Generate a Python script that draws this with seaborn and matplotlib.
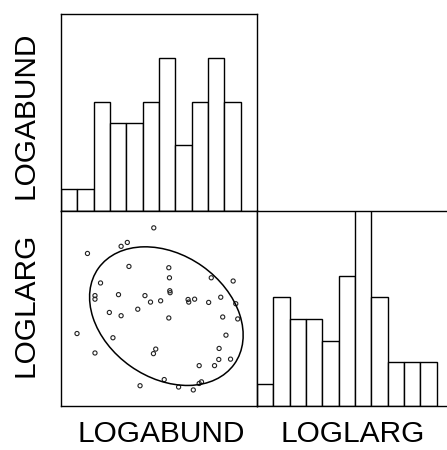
import numpy as np
import pandas as pd
import matplotlib
matplotlib.use("Agg")
import matplotlib.pyplot as plt
from matplotlib.patches import Ellipse
import seaborn as sns

# Variables of the scatterplot matrix
variables = ["LOGABUND", "LOGLARG"]

logabund = [2.84, 2.03, 1.84, 0.81, 2.08, 3.30, 3.32, 4.60, 5.27, 1.21,
            1.04, 1.04, 1.76, 2.57, 3.33, 3.34, 2.74, 3.05, 3.89, 3.91,
            4.09, 4.52, 4.89, 5.35, 1.48, 2.35, 1.84, 3.30, 4.95, 5.41,
            0.49, 1.59, 5.05, 1.04, 2.90, 2.83, 4.84, 4.83, 5.19, 4.70,
            4.23, 3.16, 2.42, 3.60, 4.05, 4.23, 4.30]
loglarg = [5.48, 5.03, 4.91, 4.69, 4.29, 4.25, 3.94, 3.94, 3.84, 3.78,
           3.39, 3.28, 3.42, 3.39, 3.54, 3.48, 3.19, 3.23, 3.27, 3.19,
           3.28, 3.18, 3.34, 3.14, 2.87, 2.97, 2.77, 2.70, 2.73, 2.67,
           2.22, 2.09, 2.17, 1.62, 1.74, 1.60, 1.76, 1.42, 1.43, 1.23,
           1.23, 0.80, 0.61, 0.57, 0.48, 0.68, 0.73]

bin_edges = [0.0, 0.5, 1.0, 1.5, 2.0, 2.5, 3.0, 3.5, 4.0, 4.5, 5.0, 5.5]
axis_range = (0.0, 6.0)
count_range = (0, 9)
ellipse_prob = 0.75

df = pd.DataFrame({"LOGABUND": logabund, "LOGLARG": loglarg})

sns.set_style("white")
plt.rcParams["font.family"] = ["Liberation Sans", "DejaVu Sans"]

W, H = 447, 450
fig = plt.figure(figsize=(W / 100, H / 100), dpi=100)


def px_axes(x0, y0, x1, y1):
    return fig.add_axes([x0 / W, 1 - y1 / H, (x1 - x0) / W, (y1 - y0) / H])


ax_h1 = px_axes(61, 14, 257, 211)
ax_sc = px_axes(61, 211, 257, 405.5)
ax_h2 = px_axes(257, 211, 453, 405.5)

bar_kw = dict(bins=bin_edges, stat="count", color="white", edgecolor="black",
              linewidth=1.0, alpha=1.0)
sns.histplot(data=df, x="LOGABUND", ax=ax_h1, **bar_kw)
sns.histplot(data=df, x="LOGLARG", ax=ax_h2, **bar_kw)
for ax in (ax_h1, ax_h2):
    ax.set_xlim(*axis_range)
    ax.set_ylim(*count_range)

sns.scatterplot(data=df, x="LOGABUND", y="LOGLARG", ax=ax_sc, marker="o",
                s=9, facecolor="none", edgecolor="#222222", linewidth=0.8)
ax_sc.set_xlim(*axis_range)
ax_sc.set_ylim(*axis_range)

# Bivariate normal ellipse from the sample mean and covariance
xy = df[["LOGABUND", "LOGLARG"]].to_numpy()
mean = xy.mean(axis=0)
cov = np.cov(xy, rowvar=False)
vals, vecs = np.linalg.eigh(cov)
k = np.sqrt(-2 * np.log(1 - ellipse_prob))
angle = np.degrees(np.arctan2(vecs[1, 1], vecs[0, 1]))
ell = Ellipse(mean, 2 * k * np.sqrt(vals[1]), 2 * k * np.sqrt(vals[0]),
              angle=angle, fill=False, edgecolor="black", linewidth=1.1)
ax_sc.add_patch(ell)

for ax in (ax_h1, ax_sc, ax_h2):
    ax.set_xticks([])
    ax.set_yticks([])
    ax.set_xlabel("")
    ax.set_ylabel("")
    for sp in ax.spines.values():
        sp.set_visible(True)
        sp.set_color("black")
        sp.set_linewidth(1.0)

label_kw = dict(fontsize=21.5, ha="center", va="center", color="black")
fig.text(26 / W, 1 - 115 / H, variables[0], rotation=90, **label_kw)
fig.text(26 / W, 1 - 305 / H, variables[1], rotation=90, **label_kw)
fig.text(161 / W, 1 - 434 / H, variables[0], **label_kw)
fig.text(353 / W, 1 - 434 / H, variables[1], **label_kw)

fig.savefig("out.png", dpi=100)
